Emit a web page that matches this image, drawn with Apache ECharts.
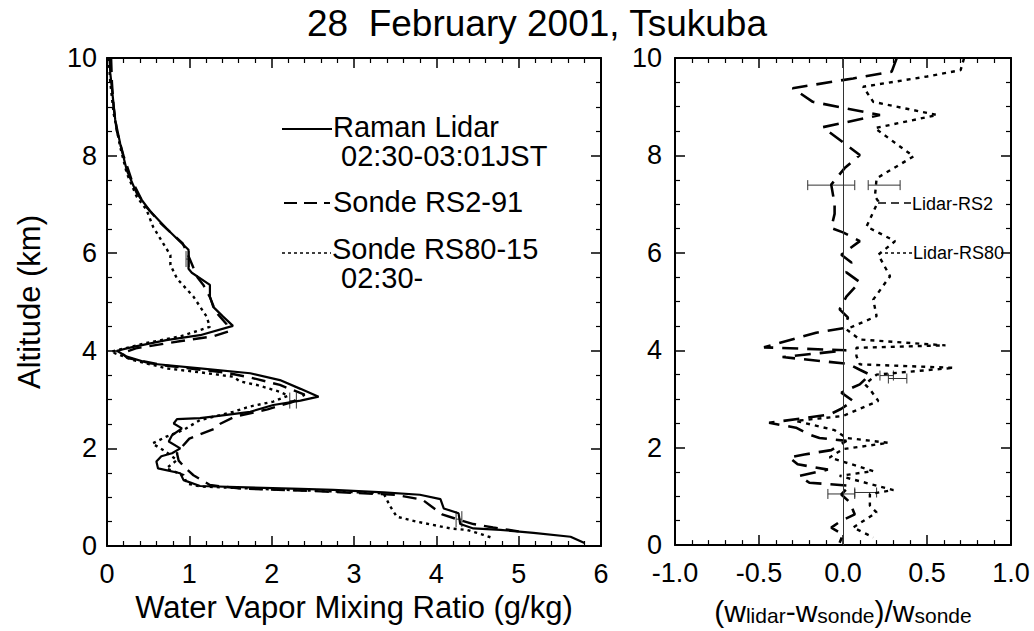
<!DOCTYPE html>
<html><head><meta charset="utf-8">
<script src="https://cdn.jsdelivr.net/npm/echarts@6/dist/echarts.min.js"></script>
<style>html,body{margin:0;padding:0;background:#fff}#c{width:1034px;height:631px}</style>
</head><body><div id="c"></div>
<script>
// ---------- data (left panel: water vapour mixing ratio g/kg vs altitude km) ----------
const lidarAlt = [10.0,9.69,9.21,8.73,8.25,7.70,7.23,6.87,6.51,6.20,6.07,5.85,5.68,5.60,5.35,5.11,4.90,4.70,4.51,4.32,4.22,4.08,4.00,3.88,3.74,3.64,3.54,3.40,3.22,3.06,2.98,2.89,2.75,2.66,2.62,2.60,2.51,2.41,2.27,2.14,2.00,1.90,1.84,1.73,1.59,1.49,1.35,1.23,1.17,1.15,1.10,1.05,0.96,0.77,0.67,0.45,0.36,0.33,0.27,0.19,0.06];
const lidarVal = [0.03,0.04,0.07,0.10,0.16,0.24,0.36,0.52,0.72,0.91,0.99,0.99,0.99,1.03,1.25,1.25,1.29,1.41,1.53,1.13,0.72,0.32,0.12,0.24,0.52,1.13,1.74,2.10,2.35,2.57,2.35,2.02,1.74,1.33,1.13,0.85,0.81,0.91,0.79,0.75,0.89,0.79,0.66,0.60,0.62,0.89,0.93,1.13,2.35,2.75,3.36,3.80,4.05,4.09,4.27,4.29,4.45,4.78,5.18,5.63,5.80];

const rs2Alt = [10.0,9.5,9.0,8.5,8.0,7.5,7.0,6.6,6.2,5.9,5.5,5.35,5.1,4.8,4.55,4.4,4.3,4.2,4.05,3.95,3.85,3.7,3.55,3.45,3.3,3.1,2.95,2.8,2.65,2.5,2.4,2.2,2.05,1.9,1.75,1.6,1.45,1.35,1.25,1.18,1.12,1.05,0.95,0.8,0.65,0.55,0.45,0.38,0.30];
const rs2Val = [0.05,0.06,0.08,0.12,0.20,0.30,0.45,0.66,0.92,1.00,1.10,1.17,1.25,1.32,1.45,1.48,1.30,0.90,0.35,0.18,0.25,0.70,1.45,1.75,2.10,2.40,2.25,1.95,1.55,1.37,1.30,1.00,0.92,0.85,0.87,0.95,1.05,1.15,1.25,1.60,2.60,3.50,3.83,3.95,4.07,4.25,4.45,4.69,5.00];

const rs80Alt = [10.0,9.5,8.87,8.18,7.64,7.16,6.89,6.54,5.96,5.76,5.48,5.11,4.70,4.49,4.30,4.15,3.98,3.81,3.64,3.56,3.47,3.37,3.30,3.16,3.08,2.96,2.86,2.75,2.58,2.38,2.24,2.10,1.95,1.76,1.59,1.45,1.28,1.22,1.16,1.13,1.08,0.81,0.60,0.50,0.36,0.33,0.23,0.16];
const rs80Val = [0.02,0.04,0.08,0.16,0.24,0.36,0.48,0.56,0.77,0.77,0.85,1.05,1.21,1.25,0.90,0.45,0.05,0.32,0.72,1.13,1.53,1.62,1.82,2.10,2.20,2.02,1.74,1.53,1.13,0.93,0.72,0.55,0.70,0.85,0.72,0.93,0.97,1.13,2.00,2.57,3.36,3.44,3.52,3.76,4.17,4.37,4.57,4.69];

// error bars left panel: altitude, low, high
const errLeftAlt = [5.88, 2.98, 0.55];
const errLeftLo  = [0.96, 2.22, 4.24];
const errLeftHi  = [1.00, 2.30, 4.31];

// ---------- right panel: relative difference (w_lidar - w_sonde)/w_sonde ----------
const dRs2Alt = [10.0,9.72,9.58,9.38,9.10,8.83,8.58,8.01,7.74,7.40,7.00,6.80,6.51,6.42,6.24,5.96,5.80,5.60,5.40,5.10,4.84,4.67,4.45,4.36,4.06,4.00,3.86,3.72,3.60,3.50,3.30,3.13,2.96,2.80,2.68,2.51,2.41,2.27,2.20,2.14,1.95,1.86,1.80,1.66,1.55,1.42,1.28,1.22,1.04,0.88,0.63,0.50,0.36,0.22,0.05];
const dRs2Val = [0.32,0.29,0.06,-0.30,-0.18,0.22,-0.12,0.10,0.01,-0.07,-0.05,-0.05,-0.07,0.00,0.10,-0.01,0.05,0.02,0.10,0.02,-0.02,0.03,0.00,-0.16,-0.47,0.02,-0.36,0.03,0.10,0.16,0.10,-0.01,0.06,-0.01,-0.08,-0.44,-0.28,-0.20,-0.14,0.02,-0.07,-0.23,-0.32,-0.27,-0.09,-0.26,-0.20,0.04,-0.01,0.04,0.07,-0.01,-0.07,0.00,-0.02];

const dRs80Alt = [9.99,9.75,9.62,9.41,9.10,8.83,8.56,7.98,7.53,7.16,7.06,6.54,6.24,5.96,5.52,5.04,4.70,4.43,4.22,4.10,4.05,3.88,3.71,3.64,3.50,3.30,3.20,2.96,2.65,2.55,2.36,2.20,2.10,1.97,1.80,1.52,1.42,1.13,1.05,0.81,0.67,0.36,0.16];
const dRs80Val = [0.72,0.70,0.50,0.12,0.18,0.56,0.19,0.42,0.20,0.19,0.21,0.14,0.31,0.21,0.28,0.18,0.20,0.02,0.10,0.61,0.08,0.08,0.10,0.66,0.20,0.13,0.16,0.21,0.00,-0.28,-0.05,0.02,0.27,0.00,-0.08,0.18,-0.02,0.30,0.16,0.16,0.20,0.06,0.18];

const errRightAlt = [7.39, 7.39, 3.48, 3.42, 1.05, 1.08];
const errRightLo  = [-0.21, 0.15, 0.22, 0.27, -0.09, 0.07];
const errRightHi  = [0.07, 0.34, 0.30, 0.38, 0.07, 0.20];

const xTicksLeft = [0,1,2,3,4,5,6];
const xTicksRight = [-1.0,-0.5,0.0,0.5,1.0];
const yTicks = [0,2,4,6,8,10];

// ---------- helpers ----------
const FONT = "'Liberation Sans', Arial, Helvetica, sans-serif";
const pairs = (alt, val) => alt.map((a, i) => [val[i], a]);
const errData = (alt, lo, hi) => alt.map((a, i) => [lo[i], hi[i], a]);

function errRender(capH) {
  return function (params, api) {
    const lo = api.coord([api.value(0), api.value(2)]);
    const hi = api.coord([api.value(1), api.value(2)]);
    const st = { stroke: '#333', lineWidth: 1, fill: null };
    return { type: 'group', children: [
      { type: 'line', shape: { x1: lo[0], y1: lo[1], x2: hi[0], y2: hi[1] }, style: st },
      { type: 'line', shape: { x1: lo[0], y1: lo[1] - capH, x2: lo[0], y2: lo[1] + capH }, style: st },
      { type: 'line', shape: { x1: hi[0], y1: hi[1] - capH, x2: hi[0], y2: hi[1] + capH }, style: st }
    ]};
  };
}

const axLine = { show: true, onZero: false, lineStyle: { color: '#000', width: 2 } };
const tick = { show: true, inside: true, length: 10, lineStyle: { color: '#000', width: 1.5 } };
const minor = (n) => ({ show: true, splitNumber: n, length: 5, lineStyle: { color: '#000', width: 1.2 } });

function xAxisDef(grid, pos, min, max, interval, minorN, labels, extra) {
  return Object.assign({
    type: 'value', gridIndex: grid, position: pos, min, max, interval,
    axisLine: axLine, axisTick: tick, minorTick: minor(minorN),
    splitLine: { show: false }, minorSplitLine: { show: false },
    axisLabel: labels ? { show: true, fontSize: 27, fontFamily: FONT, color: '#000', margin: 14 } : { show: false }
  }, extra || {});
}
function yAxisDef(grid, pos, labels, margin, extra) {
  return Object.assign({
    type: 'value', gridIndex: grid, position: pos, min: yTicks[0], max: yTicks[yTicks.length - 1], interval: 2,
    axisLine: axLine, axisTick: tick, minorTick: minor(4),
    splitLine: { show: false }, minorSplitLine: { show: false },
    axisLabel: labels ? { show: true, fontSize: 27, fontFamily: FONT, color: '#000', margin } : { show: false }
  }, extra || {});
}

const legendText = (x, y, t) => ({ type: 'text', x, y, style: { text: t, font: '29px ' + FONT, fill: '#000', align: 'left', verticalAlign: 'middle' } });

const chart = echarts.init(document.getElementById('c'), null, { renderer: 'svg' });
chart.setOption({
  animation: false,
  backgroundColor: '#fff',
  textStyle: { fontFamily: FONT },
  grid: [
    { left: 107, top: 58, width: 494, height: 488 },
    { left: 675, top: 58, width: 336, height: 488 }
  ],
  xAxis: [
    xAxisDef(0, 'bottom', xTicksLeft[0], xTicksLeft[xTicksLeft.length - 1], 1, 5, true, {
      name: 'Water Vapor Mixing Ratio (g/kg)', nameLocation: 'middle', nameGap: 46,
      nameTextStyle: { fontSize: 31, fontFamily: FONT, color: '#000' }
    }),
    xAxisDef(0, 'top', xTicksLeft[0], xTicksLeft[xTicksLeft.length - 1], 1, 5, false),
    xAxisDef(1, 'bottom', xTicksRight[0], xTicksRight[xTicksRight.length - 1], 0.5, 5, true, {
      axisLabel: { show: true, fontSize: 27, fontFamily: FONT, color: '#000', margin: 14, formatter: v => v.toFixed(1) },
      name: '{m|(w}{s|lidar}{m|-w}{s|sonde}{m|)/w}{s|sonde}', nameLocation: 'middle', nameGap: 43,
      nameTextStyle: { fontFamily: FONT, color: '#000', rich: {
        m: { fontSize: 30, fontFamily: FONT, color: '#000', verticalAlign: 'top', lineHeight: 30 },
        s: { fontSize: 21, fontFamily: FONT, color: '#000', verticalAlign: 'bottom', lineHeight: 22, padding: [14, 0, 0, 0] }
      } }
    }),
    xAxisDef(1, 'top', xTicksRight[0], xTicksRight[xTicksRight.length - 1], 0.5, 5, false)
  ],
  yAxis: [
    yAxisDef(0, 'left', true, 10, {
      name: 'Altitude (km)', nameLocation: 'middle', nameGap: 62,
      nameTextStyle: { fontSize: 31, fontFamily: FONT, color: '#000' }
    }),
    yAxisDef(0, 'right', false),
    yAxisDef(1, 'left', true, 13),
    yAxisDef(1, 'right', false)
  ],
  graphic: [
    { type: 'text', x: 537, y: 23, style: { text: '28  February 2001, Tsukuba', font: '37px ' + FONT, fill: '#000', align: 'center', verticalAlign: 'middle' } },
    // left legend
    { type: 'line', shape: { x1: 282, y1: 129, x2: 332, y2: 129 }, style: { stroke: '#000', lineWidth: 2 } },
    legendText(333, 127, 'Raman Lidar'),
    legendText(341, 156, '02:30-03:01JST'),
    { type: 'line', shape: { x1: 284, y1: 203, x2: 330, y2: 203 }, style: { stroke: '#000', lineWidth: 2, lineDash: [13, 7] } },
    legendText(333, 202, 'Sonde RS2-91'),
    { type: 'line', shape: { x1: 282, y1: 253, x2: 331, y2: 253 }, style: { stroke: '#000', lineWidth: 1.5, lineDash: [3, 3] } },
    legendText(332, 249, 'Sonde RS80-15'),
    legendText(341, 278, '02:30-'),
    // right annotations
    { type: 'line', shape: { x1: 878, y1: 203, x2: 911, y2: 203 }, style: { stroke: '#000', lineWidth: 1.5, lineDash: [8, 5] } },
    { type: 'text', x: 912, y: 204, style: { text: 'Lidar-RS2', font: '18px ' + FONT, fill: '#000', align: 'left', verticalAlign: 'middle' } },
    { type: 'line', shape: { x1: 885, y1: 253, x2: 912, y2: 253 }, style: { stroke: '#000', lineWidth: 1.5, lineDash: [3, 3] } },
    { type: 'text', x: 913, y: 253, style: { text: 'Lidar-RS80', font: '18px ' + FONT, fill: '#000', align: 'left', verticalAlign: 'middle' } }
  ],
  series: [
    { type: 'line', name: 'Sonde RS80-15', xAxisIndex: 0, yAxisIndex: 0, data: pairs(rs80Alt, rs80Val), showSymbol: false, symbol: 'none',
      lineStyle: { color: '#000', width: 2.4, type: [3, 4] } },
    { type: 'line', name: 'Sonde RS2-91', xAxisIndex: 0, yAxisIndex: 0, data: pairs(rs2Alt, rs2Val), showSymbol: false, symbol: 'none',
      lineStyle: { color: '#000', width: 2.4, type: [14, 8] } },
    { type: 'line', name: 'Raman Lidar', xAxisIndex: 0, yAxisIndex: 0, data: pairs(lidarAlt, lidarVal), showSymbol: false, symbol: 'none',
      lineStyle: { color: '#000', width: 2.2 } },
    { type: 'custom', xAxisIndex: 0, yAxisIndex: 0, data: errData(errLeftAlt, errLeftLo, errLeftHi), renderItem: errRender(8) },
    { type: 'line', name: 'Lidar-RS80', xAxisIndex: 2, yAxisIndex: 2, data: pairs(dRs80Alt, dRs80Val), showSymbol: false, symbol: 'none',
      lineStyle: { color: '#000', width: 2.4, type: [4, 5] } },
    { type: 'line', name: 'Lidar-RS2', xAxisIndex: 2, yAxisIndex: 2, data: pairs(dRs2Alt, dRs2Val), showSymbol: false, symbol: 'none',
      lineStyle: { color: '#000', width: 2.6, type: [16, 9] },
      markLine: { silent: true, symbol: 'none', label: { show: false }, lineStyle: { color: '#333', width: 1, type: 'solid' }, data: [{ xAxis: 0 }] } },
    { type: 'custom', xAxisIndex: 2, yAxisIndex: 2, data: errData(errRightAlt, errRightLo, errRightHi), renderItem: errRender(5) }
  ]
});
</script></body></html>
